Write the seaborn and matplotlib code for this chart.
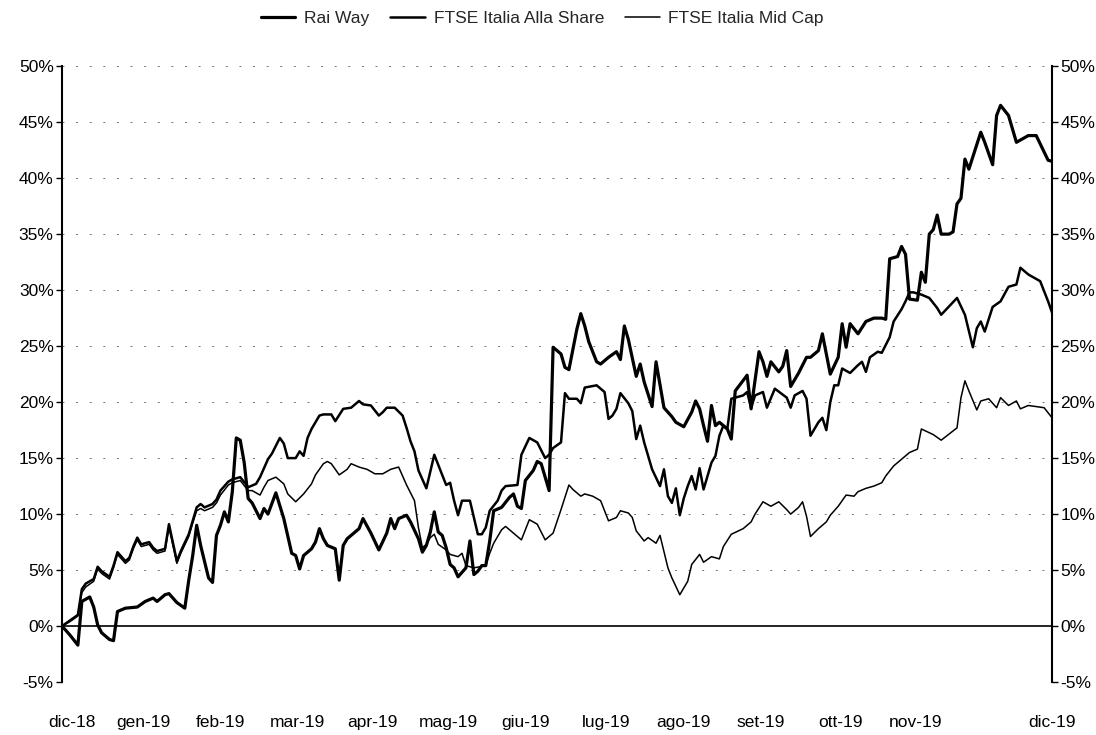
import matplotlib
matplotlib.use("Agg")
import matplotlib.pyplot as plt
import seaborn as sns
import pandas as pd
from matplotlib.ticker import FuncFormatter
from matplotlib.font_manager import fontManager

# ---------------- data ----------------
serie_nomi = ["Rai Way", "FTSE Italia Alla Share", "FTSE Italia Mid Cap"]

rai_giorni = [0,2,4,5,7,8,9,10,12,13,
              14,16,19,21,23,24,26,27,29,31,
              32,33,34,35,37,38,39,40,41,42,
              43,44,45,46,47,48,50,51,52,54,
              56,58,59,60,61,63,64,65,66,67,
              69,70,71,72,73,75,76,78,80,82,
              83,84,85,87,88,90,91,92,93,94,
              95,96,97,98,99,100,102,103,104,105,
              106,107,108,109,111,113,114,115,116,117,
              119,120,121,122,123,124,126,127,128,129,
              130,131,132,133,135,136,138,140,141,142,
              143,145,146,147,149,150,152,154,155,157,
              159,160,161,162,163,164,165,166,168,169,
              170,173,174,176,177,178,179,181,182,183,
              184,186,188,189,191,192,193,194,196,197,
              198,199,201,203,205,207,208,209,211,212,
              213,214,216,217,218,219,220,221,222,224,
              225,226,227,228,229,232,233,235,236,237,
              239,240,241,244,246,249,250]
rai_valori = [0,-0.8,-1.7,2.2,2.6,1.7,0.1,-0.6,-1.2,-1.3,
              1.3,1.6,1.7,2.2,2.5,2.2,2.8,2.9,2.1,1.6,
              4.1,6.3,9.0,7.2,4.3,3.9,8.1,9.0,10.2,9.3,
              12.0,16.8,16.6,14.6,11.4,11.0,9.6,10.5,10.0,11.9,
              9.6,6.5,6.3,5.1,6.3,6.9,7.5,8.7,7.8,7.2,
              6.9,4.1,7.2,7.8,8.1,8.7,9.6,8.3,6.8,8.3,
              9.6,8.7,9.6,9.9,9.3,7.8,6.6,7.2,8.4,10.2,
              8.4,8.1,7.0,5.5,5.2,4.4,5.2,7.6,4.6,4.9,
              5.4,5.4,7.6,10.3,10.6,11.5,11.8,10.7,10.5,13.0,
              13.9,14.7,14.5,13.3,12.1,24.9,24.3,23.1,22.9,24.7,
              26.5,27.9,26.8,25.4,23.6,23.4,24.0,24.5,23.8,26.8,
              25.6,22.3,23.4,21.8,19.6,23.6,19.5,18.7,18.2,17.8,
              19.1,20.1,19.4,17.9,16.5,19.7,17.9,18.2,17.6,16.7,
              21.0,22.4,19.4,24.5,23.6,22.3,23.6,22.7,23.2,24.6,
              21.4,22.6,24.0,24.0,24.6,26.1,24.3,22.5,24.0,27.0,
              24.9,27.0,26.1,27.2,27.5,27.5,27.4,32.8,33.0,33.9,
              33.2,29.2,29.1,31.6,30.7,35.0,35.4,36.7,35.0,35.0,
              35.2,37.7,38.2,41.7,40.8,44.1,43.2,41.2,45.6,46.5,
              45.6,44.4,43.2,43.8,43.8,41.6,41.5]

all_giorni = [0,2,4,5,6,8,9,10,12,13,
              14,16,17,18,19,20,22,23,24,26,
              27,29,30,32,33,34,35,36,38,39,
              40,42,43,45,47,49,50,52,53,55,
              56,57,59,60,61,62,63,65,66,68,
              69,71,73,75,76,78,80,81,82,84,
              86,87,88,89,90,92,93,94,95,97,
              98,99,100,101,103,104,105,106,107,108,
              110,111,112,115,116,118,120,122,123,124,
              126,127,128,130,131,132,135,137,138,139,
              140,141,143,144,145,146,147,148,149,151,
              152,153,154,155,156,157,158,159,160,161,
              162,163,164,165,166,167,168,169,172,173,
              174,175,177,178,180,183,184,185,187,188,
              189,191,192,193,194,195,196,197,199,201,
              202,203,204,206,207,209,210,212,213,214,
              215,217,219,221,222,226,228,230,231,232,
              233,235,237,239,241,242,244,247,249,250]
all_valori = [0,0.5,1.0,3.3,3.8,4.2,5.3,4.9,4.4,5.4,
              6.6,5.8,6.1,7.1,7.9,7.3,7.5,7.0,6.7,6.9,
              9.1,5.8,6.7,8.2,9.4,10.6,10.9,10.6,10.9,11.3,
              12.1,12.9,13.1,13.3,12.4,12.7,13.3,14.9,15.4,16.8,
              16.3,15.0,15.0,15.6,15.2,16.8,17.6,18.8,18.9,18.9,
              18.3,19.4,19.5,20.1,19.8,19.7,18.8,19.1,19.5,19.5,
              18.8,17.7,16.5,15.6,13.9,12.3,13.8,15.3,14.4,12.6,
              12.8,11.2,9.9,11.2,11.2,9.7,8.2,8.2,8.8,10.3,
              11.2,12.1,12.5,12.6,15.3,16.8,16.4,15.0,15.3,15.9,
              16.4,20.8,20.3,20.3,19.9,21.3,21.5,20.9,18.5,18.8,
              19.4,20.8,19.9,19.2,16.7,17.9,16.4,15.2,14.0,12.5,
              14.0,11.6,11.0,12.3,9.9,11.4,12.5,13.4,12.2,14.1,
              12.2,13.4,14.6,15.2,17.0,17.9,17.6,20.3,20.6,20.9,
              19.5,20.6,20.9,19.5,21.2,20.4,19.5,20.6,21.0,20.3,
              17.0,18.2,18.6,17.5,20.0,21.5,21.5,23.0,22.6,23.3,
              23.6,22.7,24.0,24.5,24.4,25.8,27.2,28.3,29.0,29.8,
              29.8,29.6,29.3,28.4,27.8,29.3,27.8,24.9,26.6,27.2,
              26.3,28.5,29.0,30.3,30.5,32.0,31.4,30.8,29.0,28.0]

mid_giorni = [0,2,4,5,6,8,9,10,12,13,
              14,16,17,18,19,20,22,23,24,26,
              27,29,30,32,33,34,35,36,38,39,
              40,42,43,45,47,48,50,51,52,54,
              56,57,59,61,63,64,66,67,68,70,
              72,73,75,77,79,81,83,85,87,89,
              90,91,92,93,94,95,97,98,100,101,
              102,104,107,108,109,111,112,114,116,118,
              120,122,124,126,128,129,131,132,134,136,
              138,140,141,143,144,145,147,148,150,151,
              153,154,156,158,159,161,162,164,166,167,
              169,172,174,175,177,179,181,183,184,186,
              187,188,189,191,193,194,196,198,200,201,
              203,205,207,208,210,212,214,216,217,220,
              222,226,227,228,229,231,232,234,236,237,
              239,241,242,244,248,250]
mid_valori = [0,0.4,0.9,3.0,3.5,4.0,5.1,4.7,4.2,5.2,
              6.4,5.6,5.9,6.9,7.7,7.1,7.3,6.8,6.5,6.7,
              8.8,5.6,6.5,8.0,9.2,10.3,10.5,10.3,10.6,11.0,
              11.7,12.6,12.8,13.0,12.1,12.1,11.7,12.4,13.0,13.3,
              12.7,11.8,11.1,11.8,12.7,13.5,14.5,14.7,14.5,13.5,
              14.0,14.5,14.2,14.0,13.6,13.6,14.0,14.2,12.6,11.2,
              8.8,7.0,7.3,7.9,8.2,7.3,6.8,6.4,6.2,6.5,
              5.4,5.2,5.4,6.5,7.4,8.6,8.9,8.3,7.7,9.5,
              9.1,7.7,8.3,10.4,12.6,12.2,11.6,11.8,11.6,11.2,
              9.4,9.7,10.3,10.1,9.7,8.5,7.6,7.9,7.4,8.1,
              5.2,4.3,2.8,4.0,5.5,6.4,5.7,6.2,6.0,7.1,
              8.2,8.7,9.3,10.0,11.1,10.7,11.1,10.4,10.0,10.6,
              11.1,9.8,8.0,8.7,9.3,9.9,10.7,11.7,11.6,12.0,
              12.3,12.5,12.8,13.4,14.3,14.9,15.5,15.8,17.6,17.1,
              16.6,17.7,20.4,21.9,21.0,19.3,20.1,20.3,19.5,20.4,
              19.7,20.1,19.4,19.7,19.5,18.6]

mesi_etichette = ["dic-18", "gen-19", "feb-19", "mar-19", "apr-19", "mag-19", "giu-19",
                  "lug-19", "ago-19", "set-19", "ott-19", "nov-19", "dic-19"]
mesi_pos = [2.5, 20.5, 40, 59.5, 78.5, 97.5, 117, 137.5, 157, 176.5, 196.5, 215.5, 250]
y_ticks = [-5, 0, 5, 10, 15, 20, 25, 30, 35, 40, 45, 50]

# ---------------- style ----------------
sns.set_theme(style="white")
names = {f.name for f in fontManager.ttflist}
fam = [f for f in ["Liberation Sans Narrow", "Liberation Sans", "DejaVu Sans"] if f in names]
plt.rcParams["font.family"] = fam

fig = plt.figure(figsize=(10.96, 7.35), dpi=100)
ax = fig.add_axes([0.0566, 0.072, 0.9033, 0.838])

frames = []
for nome, g, v in zip(serie_nomi, [rai_giorni, all_giorni, mid_giorni],
                      [rai_valori, all_valori, mid_valori]):
    frames.append(pd.DataFrame({"giorno": g, "valore": v, "serie": nome}))
df = pd.concat(frames, ignore_index=True)

spessori = {"Rai Way": 2.3, "FTSE Italia Alla Share": 1.8, "FTSE Italia Mid Cap": 1.1}
for nome in serie_nomi:
    sub = df[df["serie"] == nome]
    sns.lineplot(data=sub, x="giorno", y="valore", color="black",
                 linewidth=spessori[nome], label=nome, ax=ax,
                 estimator=None, sort=False, zorder=3)

ax.set_xlim(0, 250)
ax.set_ylim(-5, 50)
ax.set_yticks(y_ticks)
ax.yaxis.set_major_formatter(FuncFormatter(lambda v, p: f"{int(v)}%"))
ax.set_xticks(mesi_pos)
ax.set_xticklabels(mesi_etichette)
ax.set_xlabel("")
ax.set_ylabel("")

for yv in y_ticks:
    if yv != 0:
        ax.axhline(yv, color="0.45", lw=0.7, ls=(0, (2, 12)), zorder=1)
ax.axhline(0, color="black", lw=1.2, zorder=2)

for s in ["top", "bottom"]:
    ax.spines[s].set_visible(False)
for s in ["left", "right"]:
    ax.spines[s].set_visible(True)
    ax.spines[s].set_color("black")
    ax.spines[s].set_linewidth(1.5)

ax.tick_params(axis="y", which="both", left=True, right=True, labelleft=True,
               labelright=True, length=4, width=1, direction="out", pad=2,
               labelsize=12.5, colors="black")
ax.tick_params(axis="x", length=0, pad=24, labelsize=12.5, colors="black")

leg = ax.legend(loc="upper center", bbox_to_anchor=(0.485, 1.115), ncol=3,
                frameon=False, fontsize=12.5, handlelength=2.0,
                columnspacing=1.2, handletextpad=0.5)

fig.savefig("out.png", dpi=100)
